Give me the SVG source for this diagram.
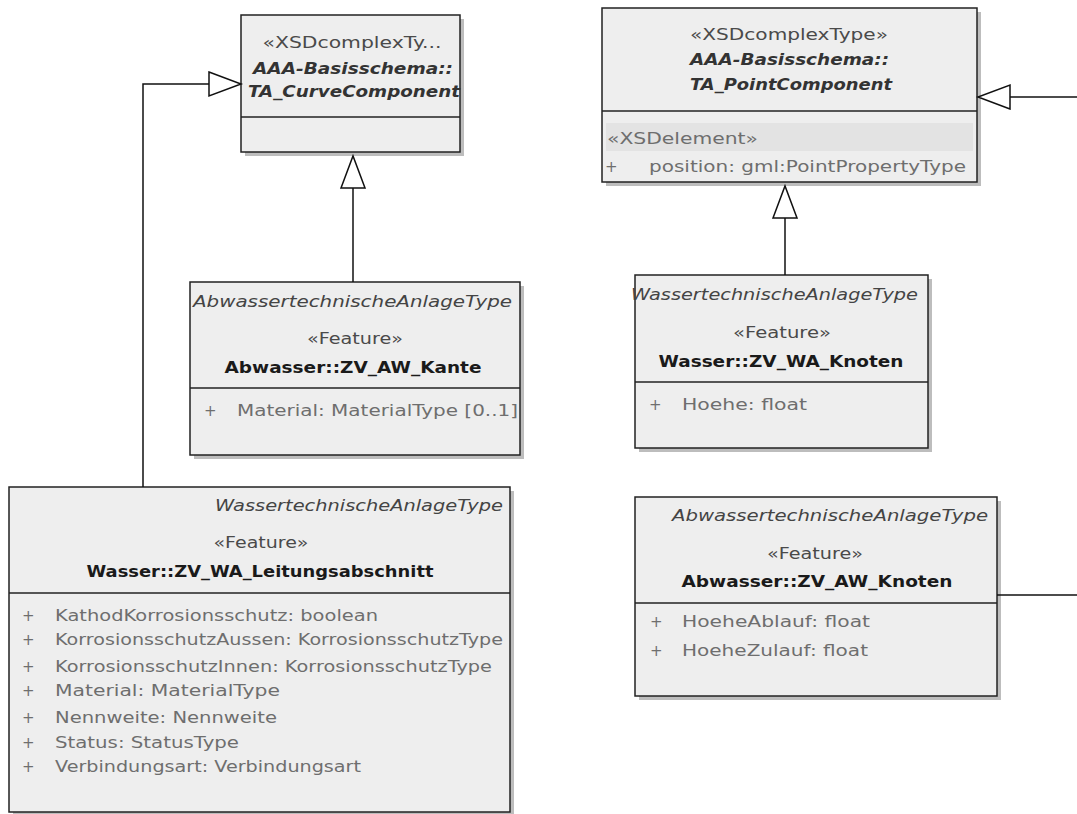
<svg xmlns="http://www.w3.org/2000/svg" width="1077" height="814" viewBox="0 0 1077 814">
  <style>
    .shadow { fill: #bdbdbd; }
    .box { fill: #eeeeee; stroke: #222; stroke-width: 1.5; }
    .div { stroke: #222; stroke-width: 1.5; }
    text { font-family: "DejaVu Sans", Verdana, sans-serif; font-size: 15px; }
    .st { fill: #4a4a4a; text-anchor: middle; }
    .abs { fill: #333; font-weight: bold; font-style: italic; }
    .tag { fill: #444; font-style: italic; }
    .name { fill: #1a1a1a; font-weight: bold; text-anchor: middle; }
    .attr { fill: #6e6e6e; }
    .conn { fill: none; stroke: #111; stroke-width: 1.5; }
    .xsdrow { fill: #e3e3e3; }
  </style>
  <defs>
    <marker id="gen" viewBox="0 0 32 24" refX="32" refY="12" markerWidth="32" markerHeight="24" markerUnits="userSpaceOnUse" orient="auto" overflow="visible">
      <path d="M0,0 L32,12 L0,24 Z" fill="#ffffff" stroke="#111" stroke-width="1.5"/>
    </marker>
  </defs>
  <rect width="1077" height="814" fill="#ffffff"/>

  <!-- Abstract curve component -->
  <g id="ta-curve-component">
    <rect class="shadow" x="245" y="19" width="219" height="137"/>
    <rect class="box" x="241" y="15" width="219" height="137"/>
    <line class="div" x1="241" y1="117" x2="460" y2="117"/>
    <text class="st" x="352" y="48" textLength="179" lengthAdjust="spacingAndGlyphs">«XSDcomplexTy...</text>
    <text class="abs" x="253" y="74" textLength="200" lengthAdjust="spacingAndGlyphs">AAA-Basisschema::</text>
    <text class="abs" x="248" y="97" textLength="212" lengthAdjust="spacingAndGlyphs">TA_CurveComponent</text>
  </g>

  <!-- Abstract point component -->
  <g id="ta-point-component">
    <rect class="shadow" x="606" y="12" width="375" height="174"/>
    <rect class="box" x="602" y="8" width="375" height="174"/>
    <line class="div" x1="602" y1="111" x2="977" y2="111"/>
    <text class="st" x="789" y="40" textLength="198" lengthAdjust="spacingAndGlyphs">«XSDcomplexType»</text>
    <text class="abs" x="690" y="65" textLength="199" lengthAdjust="spacingAndGlyphs">AAA-Basisschema::</text>
    <text class="abs" x="690" y="90" textLength="202" lengthAdjust="spacingAndGlyphs">TA_PointComponent</text>
    <rect class="xsdrow" x="606" y="123" width="367" height="28"/>
    <text class="attr" x="607" y="144" textLength="151" lengthAdjust="spacingAndGlyphs">«XSDelement»</text>
    <text class="attr" x="605" y="172">+</text>
    <text class="attr" x="649" y="172" textLength="317" lengthAdjust="spacingAndGlyphs">position:  gml:PointPropertyType</text>
  </g>

  <!-- Abwasser edge feature -->
  <g id="zv-aw-kante">
    <rect class="shadow" x="194" y="286" width="330" height="173"/>
    <rect class="box" x="190" y="282" width="330" height="173"/>
    <line class="div" x1="190" y1="388" x2="520" y2="388"/>
    <text class="tag" x="193" y="307" textLength="319" lengthAdjust="spacingAndGlyphs">AbwassertechnischeAnlageType</text>
    <text class="st" x="355" y="344" textLength="96" lengthAdjust="spacingAndGlyphs">«Feature»</text>
    <text class="name" x="353" y="373" textLength="257" lengthAdjust="spacingAndGlyphs">Abwasser::ZV_AW_Kante</text>
    <text class="attr" x="204" y="416">+</text>
    <text class="attr" x="237" y="416" textLength="281" lengthAdjust="spacingAndGlyphs">Material:  MaterialType [0..1]</text>
  </g>

  <!-- Wasser node feature -->
  <g id="zv-wa-knoten">
    <rect class="shadow" x="639" y="279" width="293" height="173"/>
    <rect class="box" x="635" y="275" width="293" height="173"/>
    <line class="div" x1="635" y1="382" x2="928" y2="382"/>
    <text class="tag" x="631" y="300" textLength="287" lengthAdjust="spacingAndGlyphs">WassertechnischeAnlageType</text>
    <text class="st" x="782" y="338" textLength="98" lengthAdjust="spacingAndGlyphs">«Feature»</text>
    <text class="name" x="781" y="367" textLength="245" lengthAdjust="spacingAndGlyphs">Wasser::ZV_WA_Knoten</text>
    <text class="attr" x="649" y="410">+</text>
    <text class="attr" x="682" y="410" textLength="125" lengthAdjust="spacingAndGlyphs">Hoehe:  float</text>
  </g>

  <!-- Wasser pipe section feature -->
  <g id="zv-wa-leitungsabschnitt">
    <rect class="shadow" x="13" y="491" width="501" height="325"/>
    <rect class="box" x="9" y="487" width="501" height="325"/>
    <line class="div" x1="9" y1="593" x2="510" y2="593"/>
    <text class="tag" x="215" y="511" textLength="288" lengthAdjust="spacingAndGlyphs">WassertechnischeAnlageType</text>
    <text class="st" x="261" y="548" textLength="95" lengthAdjust="spacingAndGlyphs">«Feature»</text>
    <text class="name" x="260" y="577" textLength="347" lengthAdjust="spacingAndGlyphs">Wasser::ZV_WA_Leitungsabschnitt</text>
    <text class="attr" x="22" y="621">+</text>
    <text class="attr" x="55" y="621" textLength="323" lengthAdjust="spacingAndGlyphs">KathodKorrosionsschutz:  boolean</text>
    <text class="attr" x="22" y="645">+</text>
    <text class="attr" x="55" y="645" textLength="448" lengthAdjust="spacingAndGlyphs">KorrosionsschutzAussen:  KorrosionsschutzType</text>
    <text class="attr" x="22" y="672">+</text>
    <text class="attr" x="55" y="672" textLength="437" lengthAdjust="spacingAndGlyphs">KorrosionsschutzInnen:  KorrosionsschutzType</text>
    <text class="attr" x="22" y="696">+</text>
    <text class="attr" x="55" y="696" textLength="225" lengthAdjust="spacingAndGlyphs">Material:  MaterialType</text>
    <text class="attr" x="22" y="723">+</text>
    <text class="attr" x="55" y="723" textLength="222" lengthAdjust="spacingAndGlyphs">Nennweite:  Nennweite</text>
    <text class="attr" x="22" y="748">+</text>
    <text class="attr" x="55" y="748" textLength="184" lengthAdjust="spacingAndGlyphs">Status:  StatusType</text>
    <text class="attr" x="22" y="772">+</text>
    <text class="attr" x="55" y="772" textLength="306" lengthAdjust="spacingAndGlyphs">Verbindungsart:  Verbindungsart</text>
  </g>

  <!-- Abwasser node feature -->
  <g id="zv-aw-knoten">
    <rect class="shadow" x="639" y="501" width="362" height="199"/>
    <rect class="box" x="635" y="497" width="362" height="199"/>
    <line class="div" x1="635" y1="603" x2="997" y2="603"/>
    <text class="tag" x="672" y="521" textLength="316" lengthAdjust="spacingAndGlyphs">AbwassertechnischeAnlageType</text>
    <text class="st" x="815" y="559" textLength="96" lengthAdjust="spacingAndGlyphs">«Feature»</text>
    <text class="name" x="817" y="587" textLength="271" lengthAdjust="spacingAndGlyphs">Abwasser::ZV_AW_Knoten</text>
    <text class="attr" x="650" y="627">+</text>
    <text class="attr" x="682" y="627" textLength="188" lengthAdjust="spacingAndGlyphs">HoeheAblauf:  float</text>
    <text class="attr" x="650" y="656">+</text>
    <text class="attr" x="682" y="656" textLength="186" lengthAdjust="spacingAndGlyphs">HoeheZulauf:  float</text>
  </g>

  <!-- Generalization connectors -->
  <g id="connectors">
    <path class="conn" d="M143,487 V84 H241" marker-end="url(#gen)"/>
    <path class="conn" d="M353,282 V156" marker-end="url(#gen)"/>
    <path class="conn" d="M785,275 V186" marker-end="url(#gen)"/>
    <path class="conn" d="M1077,97 H978" marker-end="url(#gen)"/>
    <path class="conn" d="M997,595 H1077"/>
  </g>
</svg>
